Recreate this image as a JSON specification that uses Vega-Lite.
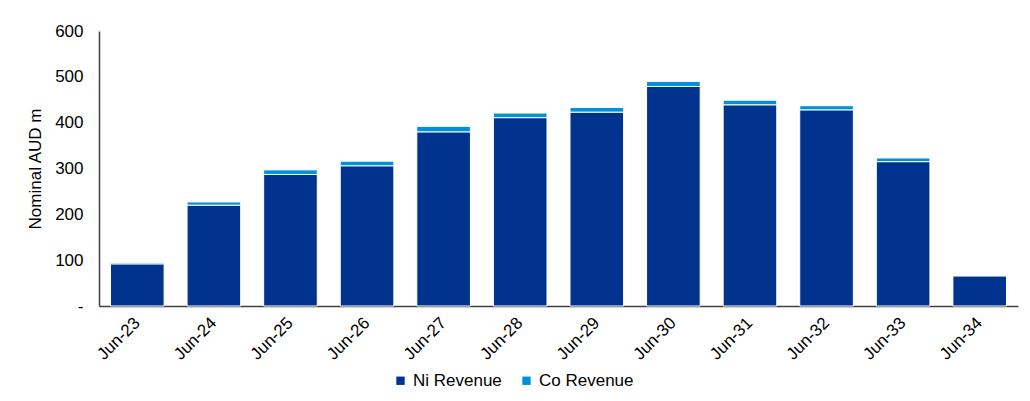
{
  "$schema": "https://vega.github.io/schema/vega-lite/v6.json",
  "autosize": {"type": "none"},
  "width": 919,
  "height": 275,
  "padding": {"left": 99, "top": 31, "right": 12, "bottom": 95},
  "background": "white",
  "config": {
    "view": {"stroke": null},
    "font": "Liberation Sans",
    "axis": {"labelFont": "Liberation Sans", "titleFont": "Liberation Sans", "labelColor": "#000000", "titleColor": "#000000"}
  },
  "data": {
    "values": [
      {"period": "Jun-23", "series": "Ni Revenue", "value": 92},
      {"period": "Jun-23", "series": "Co Revenue", "value": 3},
      {"period": "Jun-24", "series": "Ni Revenue", "value": 220},
      {"period": "Jun-24", "series": "Co Revenue", "value": 7},
      {"period": "Jun-25", "series": "Ni Revenue", "value": 287},
      {"period": "Jun-25", "series": "Co Revenue", "value": 10},
      {"period": "Jun-26", "series": "Ni Revenue", "value": 306},
      {"period": "Jun-26", "series": "Co Revenue", "value": 10},
      {"period": "Jun-27", "series": "Ni Revenue", "value": 380},
      {"period": "Jun-27", "series": "Co Revenue", "value": 12},
      {"period": "Jun-28", "series": "Ni Revenue", "value": 411},
      {"period": "Jun-28", "series": "Co Revenue", "value": 10},
      {"period": "Jun-29", "series": "Ni Revenue", "value": 423},
      {"period": "Jun-29", "series": "Co Revenue", "value": 10},
      {"period": "Jun-30", "series": "Ni Revenue", "value": 479},
      {"period": "Jun-30", "series": "Co Revenue", "value": 11},
      {"period": "Jun-31", "series": "Ni Revenue", "value": 439},
      {"period": "Jun-31", "series": "Co Revenue", "value": 10},
      {"period": "Jun-32", "series": "Ni Revenue", "value": 428},
      {"period": "Jun-32", "series": "Co Revenue", "value": 9},
      {"period": "Jun-33", "series": "Ni Revenue", "value": 315},
      {"period": "Jun-33", "series": "Co Revenue", "value": 8},
      {"period": "Jun-34", "series": "Ni Revenue", "value": 66},
      {"period": "Jun-34", "series": "Co Revenue", "value": 0}
    ]
  },
  "mark": {"type": "bar", "stroke": "white", "strokeWidth": 1},
  "encoding": {
    "x": {
      "field": "period",
      "type": "nominal",
      "sort": null,
      "scale": {"paddingInner": 0.3, "paddingOuter": 0.15},
      "axis": {
        "title": null,
        "labelAngle": -45,
        "labelAlign": "right",
        "labelBaseline": "middle",
        "labelFontSize": 17,
        "labelPadding": 14,
        "ticks": false,
        "domainColor": "#404040",
        "domainWidth": 1.5
      }
    },
    "y": {
      "field": "value",
      "type": "quantitative",
      "stack": "zero",
      "scale": {"domain": [0, 600], "nice": false},
      "axis": {
        "title": "Nominal AUD m",
        "titleFontSize": 17,
        "titleFontWeight": "normal",
        "titlePadding": 10,
        "values": [0, 100, 200, 300, 400, 500, 600],
        "labelExpr": "datum.value == 0 ? '-' : datum.label",
        "labelFontSize": 17,
        "labelPadding": 16,
        "ticks": false,
        "grid": false,
        "domainColor": "#404040",
        "domainWidth": 1.5
      }
    },
    "color": {
      "field": "series",
      "type": "nominal",
      "scale": {"domain": ["Ni Revenue", "Co Revenue"], "range": ["#00338D", "#0091DA"]},
      "legend": {
        "title": null,
        "orient": "none",
        "direction": "horizontal",
        "legendX": 293,
        "legendY": 341,
        "symbolType": "square",
        "symbolSize": 70,
        "symbolStrokeWidth": 0,
        "labelFontSize": 17,
        "labelOffset": 4,
        "labelColor": "#000000",
        "columnPadding": 16
      }
    },
    "order": {"field": "series", "sort": "descending"}
  }
}
